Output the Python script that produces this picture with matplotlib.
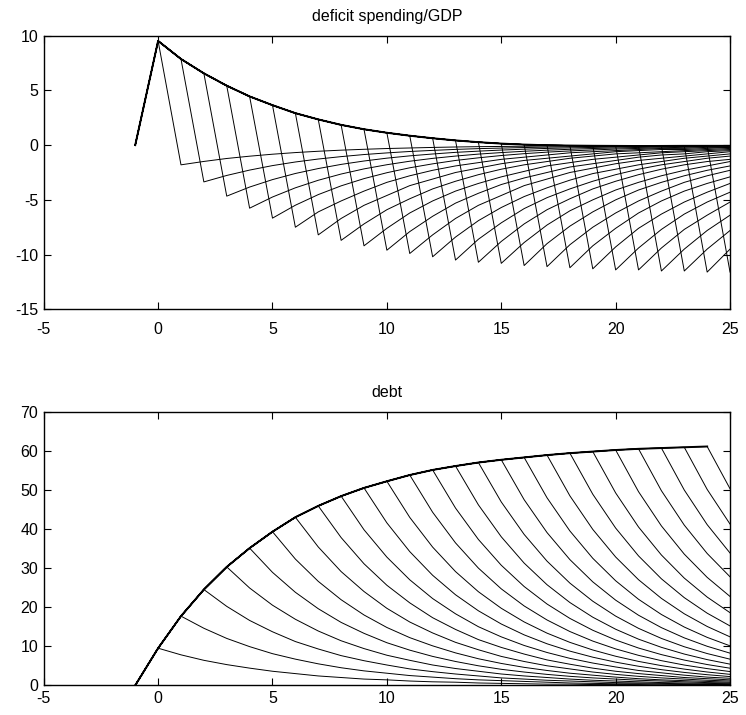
import matplotlib
matplotlib.use("Agg")
import matplotlib.pyplot as plt

# Years on the horizontal axis
years = list(range(-1, 26))

# Baseline paths (no consolidation), years -1 .. 24
deficit_path = [0, 9.52, 7.87, 6.56, 5.43, 4.45, 3.65, 2.92, 2.35, 1.85, 1.45, 1.13,
                0.86, 0.63, 0.43, 0.27, 0.14, 0.05, -0.01, -0.04, -0.06, -0.07,
                -0.08, -0.08, -0.08, -0.08]
debt_path = [0, 9.5, 17.7, 24.5, 30.3, 35.1, 39.3, 43.0, 45.9, 48.4, 50.5, 52.2,
             53.8, 55.1, 56.1, 57.0, 57.7, 58.3, 58.9, 59.4, 59.8, 60.2, 60.5,
             60.7, 60.9, 61.1]

# Deficit after a consolidation that starts the year after year k (row k covers k+1 .. 25)
deficit_cut = [
    [-1.8, -1.49, -1.22, -1.01, -0.83, -0.68, -0.56, -0.46, -0.38, -0.31, -0.26, -0.21, -0.17,
     -0.14, -0.12, -0.1, -0.08, -0.07, -0.05, -0.04, -0.04, -0.03, -0.02, -0.02, -0.02],
    [-3.36, -2.77, -2.28, -1.87, -1.54, -1.27, -1.05, -0.86, -0.71, -0.58, -0.48, -0.39, -0.32,
     -0.27, -0.22, -0.18, -0.15, -0.12, -0.1, -0.08, -0.07, -0.06, -0.05, -0.04],
    [-4.66, -3.83, -3.15, -2.59, -2.14, -1.76, -1.45, -1.19, -0.98, -0.81, -0.66, -0.55, -0.45,
     -0.37, -0.30, -0.25, -0.21, -0.17, -0.14, -0.11, -0.09, -0.08, -0.06],
    [-5.76, -4.74, -3.90, -3.21, -2.64, -2.17, -1.79, -1.47, -1.21, -1.00, -0.82, -0.68, -0.56,
     -0.46, -0.38, -0.31, -0.26, -0.21, -0.17, -0.14, -0.12, -0.10],
    [-6.67, -5.49, -4.52, -3.72, -3.06, -2.52, -2.07, -1.71, -1.40, -1.16, -0.95, -0.78, -0.64,
     -0.53, -0.44, -0.36, -0.30, -0.24, -0.20, -0.16, -0.14],
    [-7.5, -6.1, -5.1, -4.2, -3.4, -2.8, -2.3, -1.9, -1.6, -1.3, -1.1, -0.9, -0.7, -0.6, -0.5,
     -0.4, -0.3, -0.3, -0.2, -0.2],
    [-8.2, -6.7, -5.5, -4.6, -3.7, -3.1, -2.5, -2.1, -1.7, -1.4, -1.2, -1.0, -0.8, -0.6, -0.5,
     -0.4, -0.4, -0.3, -0.2],
    [-8.7, -7.2, -5.9, -4.9, -4.0, -3.3, -2.7, -2.2, -1.8, -1.5, -1.2, -1.0, -0.8, -0.7, -0.6,
     -0.5, -0.4, -0.3],
    [-9.2, -7.6, -6.2, -5.1, -4.2, -3.5, -2.9, -2.4, -1.9, -1.6, -1.3, -1.1, -0.9, -0.7, -0.6,
     -0.5, -0.4],
    [-9.6, -7.9, -6.5, -5.3, -4.4, -3.6, -3.0, -2.5, -2.0, -1.7, -1.4, -1.1, -0.9, -0.8, -0.6,
     -0.5],
    [-9.9, -8.2, -6.7, -5.5, -4.6, -3.7, -3.1, -2.5, -2.1, -1.7, -1.4, -1.2, -1.0, -0.8, -0.6],
    [-10.2, -8.4, -6.9, -5.7, -4.7, -3.9, -3.2, -2.6, -2.2, -1.8, -1.5, -1.2, -1.0, -0.8],
    [-10.5, -8.6, -7.1, -5.8, -4.8, -4.0, -3.3, -2.7, -2.2, -1.8, -1.5, -1.2, -1.0],
    [-10.7, -8.8, -7.2, -5.9, -4.9, -4.0, -3.3, -2.7, -2.2, -1.8, -1.5, -1.3],
    [-10.8, -8.9, -7.3, -6.0, -5.0, -4.1, -3.4, -2.8, -2.3, -1.9, -1.5],
    [-11.0, -9.0, -7.4, -6.1, -5.0, -4.1, -3.4, -2.8, -2.3, -1.9],
    [-11.1, -9.1, -7.5, -6.2, -5.1, -4.2, -3.4, -2.8, -2.3],
    [-11.2, -9.2, -7.6, -6.2, -5.1, -4.2, -3.5, -2.9],
    [-11.3, -9.3, -7.6, -6.3, -5.2, -4.3, -3.5],
    [-11.4, -9.4, -7.7, -6.3, -5.2, -4.3],
    [-11.4, -9.4, -7.7, -6.4, -5.2],
    [-11.5, -9.5, -7.8, -6.4],
    [-11.5, -9.5, -7.8],
    [-11.6, -9.5],
    [-11.6],
]

# Debt after the same consolidations (row k covers k+1 .. 25)
debt_cut = [
    [7.8, 6.4, 5.3, 4.4, 3.6, 3.0, 2.4, 2.0, 1.6, 1.4, 1.1, 0.9, 0.8, 0.6, 0.5, 0.4, 0.3, 0.3,
     0.2, 0.2, 0.2, 0.1, 0.1, 0.1, 0.1],
    [14.6, 12.0, 9.9, 8.1, 6.7, 5.5, 4.5, 3.7, 3.1, 2.5, 2.1, 1.7, 1.4, 1.2, 1.0, 0.8, 0.6, 0.5,
     0.4, 0.4, 0.3, 0.2, 0.2, 0.2],
    [20.2, 16.6, 13.7, 11.2, 9.3, 7.6, 6.3, 5.2, 4.2, 3.5, 2.9, 2.4, 1.9, 1.6, 1.3, 1.1, 0.9,
     0.7, 0.6, 0.5, 0.4, 0.3, 0.3],
    [24.9, 20.5, 16.9, 13.9, 11.4, 9.4, 7.7, 6.4, 5.2, 4.3, 3.6, 2.9, 2.4, 2.0, 1.6, 1.3, 1.1,
     0.9, 0.7, 0.6, 0.5, 0.4],
    [28.9, 23.8, 19.6, 16.1, 13.3, 10.9, 9.0, 7.4, 6.1, 5.0, 4.1, 3.4, 2.8, 2.3, 1.9, 1.6, 1.3,
     1.1, 0.9, 0.7, 0.6],
    [32.3, 26.6, 21.9, 18.0, 14.8, 12.2, 10.1, 8.3, 6.8, 5.6, 4.6, 3.8, 3.1, 2.6, 2.1, 1.7, 1.4,
     1.2, 1.0, 0.8],
    [35.4, 29.1, 24.0, 19.7, 16.2, 13.4, 11.0, 9.1, 7.4, 6.1, 5.0, 4.2, 3.4, 2.8, 2.3, 1.9, 1.6,
     1.3, 1.1],
    [37.8, 31.1, 25.6, 21.1, 17.3, 14.3, 11.7, 9.7, 8.0, 6.5, 5.4, 4.4, 3.6, 3.0, 2.5, 2.0, 1.7,
     1.4],
    [39.8, 32.8, 27.0, 22.2, 18.3, 15.0, 12.4, 10.2, 8.4, 6.9, 5.7, 4.7, 3.8, 3.2, 2.6, 2.1, 1.8],
    [41.56, 34.21, 28.15, 23.17, 19.07, 15.69, 12.91, 10.63, 8.75, 7.2, 5.93, 4.88, 4.01, 3.3,
     2.72, 2.24],
    [42.96, 35.36, 29.1, 23.95, 19.71, 16.22, 13.35, 10.99, 9.04, 7.44, 6.12, 5.04, 4.15, 3.41,
     2.81],
    [44.28, 36.44, 29.99, 24.68, 20.31, 16.72, 13.76, 11.32, 9.32, 7.67, 6.31, 5.19, 4.28, 3.52],
    [45.35, 37.32, 30.72, 25.28, 20.8, 17.12, 14.09, 11.6, 9.54, 7.86, 6.46, 5.32, 4.38],
    [46.17, 38.0, 31.27, 25.74, 21.18, 17.43, 14.35, 11.81, 9.72, 8.0, 6.58, 5.42],
    [46.91, 38.61, 31.77, 26.15, 21.52, 17.71, 14.58, 12.0, 9.87, 8.13, 6.69],
    [47.49, 39.08, 32.16, 26.47, 21.79, 17.93, 14.76, 12.14, 9.99, 8.23],
    [47.98, 39.49, 32.5, 26.75, 22.01, 18.12, 14.91, 12.27, 10.1],
    [48.47, 39.89, 32.83, 27.02, 22.24, 18.3, 15.06, 12.4],
    [48.89, 40.23, 33.11, 27.25, 22.43, 18.46, 15.19],
    [49.22, 40.5, 33.34, 27.43, 22.58, 18.58],
    [49.54, 40.78, 33.56, 27.62, 22.73],
    [49.79, 40.98, 33.73, 27.76],
    [49.96, 41.11, 33.84],
    [50.12, 41.25],
    [50.29],
]

x_ticks = list(range(-5, 26, 5))
deficit_ticks = list(range(-15, 11, 5))
debt_ticks = list(range(0, 71, 10))

plt.rcParams["font.family"] = ["Liberation Sans", "DejaVu Sans"]
plt.rcParams["font.size"] = 11.5
plt.rcParams["axes.unicode_minus"] = False

fig = plt.figure(figsize=(7.46, 7.15), dpi=100)
ax1 = fig.add_axes([0.0586, 0.5674, 0.920, 0.3827])
ax2 = fig.add_axes([0.0586, 0.0415, 0.920, 0.3827])

# One full path per consolidation year: baseline up to year k, then the cut
for k in range(len(deficit_cut)):
    ax1.plot(years, deficit_path[:k + 2] + deficit_cut[k], color="k", lw=0.7)
    ax2.plot(years, debt_path[:k + 2] + debt_cut[k], color="k", lw=0.7)

# Shared baseline drawn once more so it reads as the heavier upper edge
ax1.plot(years[:len(deficit_path)], deficit_path, color="k", lw=1.4)
ax2.plot(years[:len(debt_path)], debt_path, color="k", lw=1.4)

for ax in (ax1, ax2):
    ax.set_xlim(-5, 25)
    ax.set_xticks(x_ticks)
    ax.tick_params(direction="in", length=5, width=0.8, top=True, right=True)
    ax.tick_params(axis="y", pad=4)
    for s in ax.spines.values():
        s.set_linewidth(1.0)
ax1.tick_params(axis="x", pad=9)
ax2.tick_params(axis="x", pad=4)

ax1.set_ylim(-15, 10)
ax1.set_yticks(deficit_ticks)
ax2.set_ylim(0, 70)
ax2.set_yticks(debt_ticks)

ax1.set_title("deficit spending/GDP", fontsize=11.5, pad=10.5)
ax2.set_title("debt", fontsize=11.5, pad=10.5)

fig.savefig("out.png")
